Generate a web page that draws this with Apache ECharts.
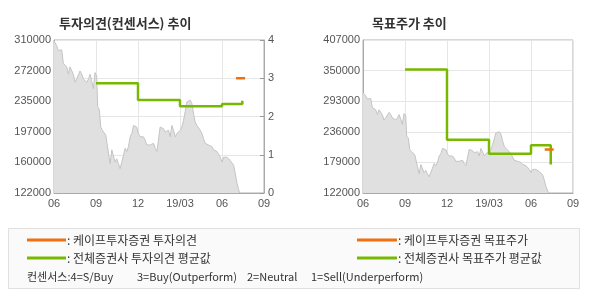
<!DOCTYPE html>
<html><head><meta charset="utf-8">
<script src="https://cdn.jsdelivr.net/npm/echarts@6/dist/echarts.min.js"></script>
<style>html,body{margin:0;padding:0;background:#fff}#c{width:590px;height:300px}</style>
</head><body><div id="c"></div>
<script>
// x positions are months since 2018-06
const xTickLabels = ['06','09','12','19/03','06','09'];
const opinionPriceTicks = ['122000','160000','197000','235000','272000','310000'];
const targetPriceTicks = ['122000','179000','236000','293000','350000','407000'];
const opinionTicks = ['0','1','2','3','4'];

const priceMonths = [0.00,0.19,0.31,0.43,0.55,0.67,0.79,0.91,1.03,1.14,1.26,1.38,1.50,1.62,1.74,1.86,1.98,2.10,2.22,2.34,2.46,2.58,2.69,2.81,2.93,3.05,3.12,3.24,3.34,3.46,3.58,3.70,3.82,3.89,4.01,4.13,4.25,4.36,4.48,4.60,4.72,4.84,4.96,5.08,5.20,5.32,5.44,5.56,5.68,5.80,5.91,6.03,6.15,6.27,6.39,6.51,6.63,6.75,6.87,6.99,7.11,7.23,7.35,7.46,7.58,7.70,7.82,7.94,8.06,8.18,8.30,8.42,8.54,8.66,8.78,8.90,9.02,9.13,9.25,9.37,9.49,9.61,9.73,9.85,9.97,10.09,10.21,10.33,10.45,10.57,10.68,10.80,10.92,11.04,11.16,11.28,11.40,11.52,11.64,11.76,11.88,12.00,12.12,12.23,12.35,12.47,12.59,12.71,12.83,12.95,13.07,13.19,13.26];
const priceValues = [309000,303000,297000,297000,298000,281000,283000,277000,268000,277000,279000,268000,258000,262000,260000,272000,268000,262000,260000,258000,262000,268000,260000,250000,270000,266000,228000,224000,203000,199000,199000,193000,193000,171000,158000,175000,175000,160000,164000,158000,152000,160000,168000,177000,173000,179000,191000,195000,205000,205000,203000,195000,191000,189000,191000,187000,181000,181000,181000,183000,183000,177000,173000,187000,203000,205000,201000,197000,197000,199000,191000,205000,199000,191000,195000,193000,199000,203000,211000,222000,234000,236000,236000,232000,219000,209000,205000,203000,199000,195000,189000,183000,181000,181000,181000,179000,175000,173000,173000,171000,166000,160000,166000,164000,166000,164000,162000,160000,156000,146000,134000,126000,122000];

const consensusMonths = [3, 6, 9, 12, 13.45];
const consensusAvg = [2.87, 2.43, 2.27, 2.33, 2.41];
const capeOpinionMonths = [13.0, 13.65];
const capeOpinion = [3, 3];

const targetMonths = [3, 6, 9, 12, 13.41];
const targetAvg = [352000, 221000, 195000, 211000, 175000];
const capeTargetMonths = [12.98, 13.62];
const capeTarget = [203000, 203000];

const zip = (a, b) => a.map((x, i) => [x, b[i]]);

const GREEN = '#78b800', ORANGE = '#f07010';
const FONT = 'Liberation Sans, Arial, sans-serif';
const KFONT = '"Noto Sans CJK KR", sans-serif';

function xAxis(gi) {
  return {
    type: 'value', gridIndex: gi, min: 0, max: 15, interval: 3,
    axisLine: { show: true, lineStyle: { color: '#aaa' } },
    axisTick: { show: false },
    splitLine: { show: true, lineStyle: { color: '#e6e6e6' } },
    axisLabel: { color: '#555', fontSize: 11, fontFamily: FONT, margin: 5,
      formatter: v => xTickLabels[Math.round(v / 3)] }
  };
}

const chart = echarts.init(document.getElementById('c'), null, { renderer: 'canvas' });
chart.setOption({
  animation: false,
  grid: [
    { left: 54, top: 40, width: 210, height: 153, show: true, borderColor: '#b0b0b0', borderWidth: 1, backgroundColor: 'transparent' },
    { left: 363, top: 40, width: 210, height: 153, show: true, borderColor: '#b0b0b0', borderWidth: 1, backgroundColor: 'transparent' }
  ],
  title: [
    { text: '투자의견(컨센서스) 추이', left: 54, top: 12, textStyle: { fontSize: 13, fontWeight: 'bold', color: '#333', fontFamily: KFONT } },
    { text: '목표주가 추이', left: 367, top: 12, textStyle: { fontSize: 13, fontWeight: 'bold', color: '#333', fontFamily: KFONT } }
  ],
  xAxis: [xAxis(0), xAxis(1)],
  yAxis: [
    { type: 'value', gridIndex: 0, position: 'left', min: 122000, max: 310000, interval: 37600,
      axisLine: { show: true, lineStyle: { color: '#aaa' } }, axisTick: { show: false },
      splitLine: { show: false },
      axisLabel: { color: '#555', fontSize: 11, fontFamily: FONT, margin: 3,
        formatter: v => opinionPriceTicks[Math.round((v - 122000) / 37600)] } },
    { type: 'value', gridIndex: 0, position: 'right', min: 0, max: 4, interval: 1,
      axisLine: { show: true, lineStyle: { color: '#aaa' } },
      axisTick: { show: true, inside: true, length: 4, lineStyle: { color: '#999' } },
      splitLine: { show: true, lineStyle: { color: '#e6e6e6' } },
      axisLabel: { color: '#555', fontSize: 11, fontFamily: FONT, margin: 4,
        formatter: v => opinionTicks[Math.round(v)] } },
    { type: 'value', gridIndex: 1, position: 'left', min: 122000, max: 407000, interval: 57000,
      axisLine: { show: true, lineStyle: { color: '#aaa' } }, axisTick: { show: false },
      splitLine: { show: true, lineStyle: { color: '#e6e6e6' } },
      axisLabel: { color: '#555', fontSize: 11, fontFamily: FONT, margin: 3,
        formatter: v => targetPriceTicks[Math.round((v - 122000) / 57000)] } }
  ],
  series: [
    { type: 'line', xAxisIndex: 0, yAxisIndex: 0, data: zip(priceMonths, priceValues), showSymbol: false,
      lineStyle: { color: '#c4c4c4', width: 1 }, areaStyle: { color: '#e0e0e0', opacity: 1, origin: 'start' }, z: 1 },
    { type: 'line', xAxisIndex: 0, yAxisIndex: 1, data: zip(consensusMonths, consensusAvg), step: 'end', showSymbol: false,
      lineStyle: { color: GREEN, width: 2.5 }, z: 3 },
    { type: 'line', xAxisIndex: 0, yAxisIndex: 1, data: zip(capeOpinionMonths, capeOpinion), showSymbol: false,
      lineStyle: { color: ORANGE, width: 2.5 }, z: 4 },
    { type: 'line', xAxisIndex: 1, yAxisIndex: 2, data: zip(priceMonths, priceValues), showSymbol: false,
      lineStyle: { color: '#c4c4c4', width: 1 }, areaStyle: { color: '#e0e0e0', opacity: 1, origin: 'start' }, z: 1 },
    { type: 'line', xAxisIndex: 1, yAxisIndex: 2, data: zip(targetMonths, targetAvg), step: 'end', showSymbol: false,
      lineStyle: { color: GREEN, width: 2.5 }, z: 3 },
    { type: 'line', xAxisIndex: 1, yAxisIndex: 2, data: zip(capeTargetMonths, capeTarget), showSymbol: false,
      lineStyle: { color: ORANGE, width: 2.5 }, z: 4 }
  ],
  graphic: [
    { type: 'rect', shape: { x: 8.5, y: 228.5, width: 571, height: 60 }, style: { fill: '#fafafa', stroke: '#e0e0e0', lineWidth: 1 }, z: 0 },
    { type: 'line', shape: { x1: 27, y1: 240, x2: 66, y2: 240 }, style: { stroke: ORANGE, lineWidth: 3 } },
    { type: 'line', shape: { x1: 27, y1: 258, x2: 66, y2: 258 }, style: { stroke: GREEN, lineWidth: 3 } },
    { type: 'line', shape: { x1: 357, y1: 240, x2: 397, y2: 240 }, style: { stroke: ORANGE, lineWidth: 3 } },
    { type: 'line', shape: { x1: 357, y1: 258, x2: 397, y2: 258 }, style: { stroke: GREEN, lineWidth: 3 } },
    { type: 'text', x: 67, y: 240, style: { text: ': 케이프투자증권 투자의견', fill: '#333', font: '12px ' + KFONT, textVerticalAlign: 'middle' } },
    { type: 'text', x: 67, y: 258, style: { text: ': 전체증권사 투자의견 평균값', fill: '#333', font: '12px ' + KFONT, textVerticalAlign: 'middle' } },
    { type: 'text', x: 398, y: 240, style: { text: ': 케이프투자증권 목표주가', fill: '#333', font: '12px ' + KFONT, textVerticalAlign: 'middle' } },
    { type: 'text', x: 398, y: 258, style: { text: ': 전체증권사 목표주가 평균값', fill: '#333', font: '12px ' + KFONT, textVerticalAlign: 'middle' } },
    { type: 'text', x: 27, y: 277, style: { text: '컨센서스:4=S/Buy', fill: '#333', font: '11px ' + KFONT, textVerticalAlign: 'middle' } },
    { type: 'text', x: 137, y: 277, style: { text: '3=Buy(Outperform)', fill: '#333', font: '11px ' + KFONT, textVerticalAlign: 'middle' } },
    { type: 'text', x: 247, y: 277, style: { text: '2=Neutral', fill: '#333', font: '11px ' + KFONT, textVerticalAlign: 'middle' } },
    { type: 'text', x: 311, y: 277, style: { text: '1=Sell(Underperform)', fill: '#333', font: '11px ' + KFONT, textVerticalAlign: 'middle' } }
  ]
});
</script></body></html>
